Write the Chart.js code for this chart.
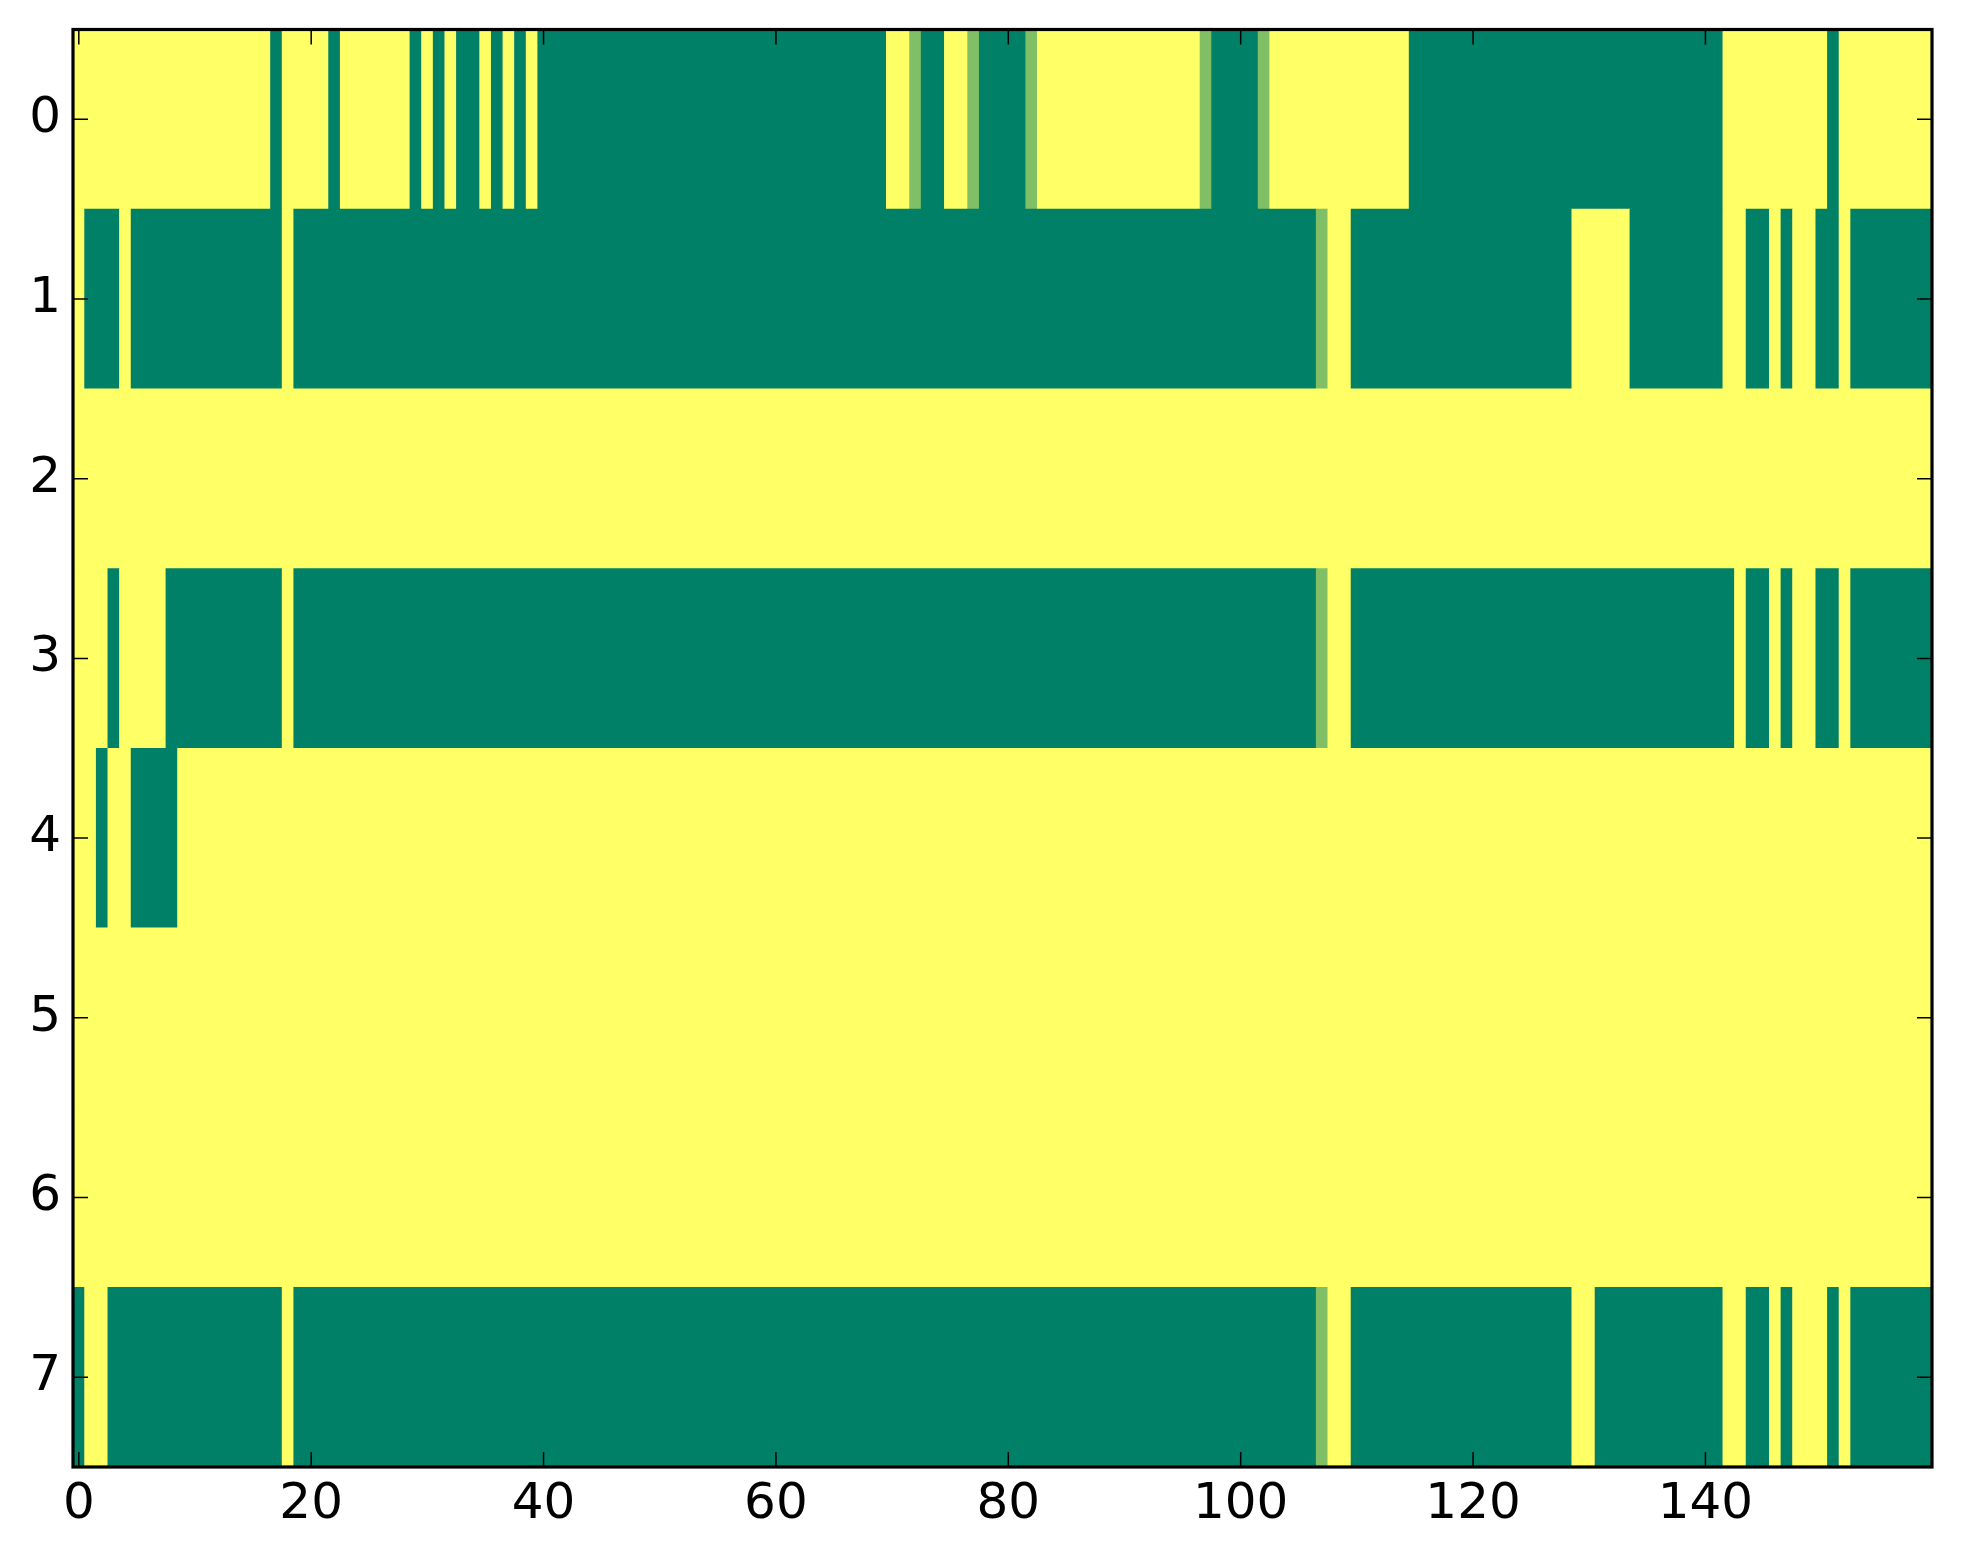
<!DOCTYPE html>
<html><head><meta charset="utf-8">
<script src="https://cdn.jsdelivr.net/npm/chart.js@4"></script>
<style>html,body{margin:0;padding:0;background:#fff}</style>
</head><body>
<canvas id="c" width="1963" height="1564" style="width:1963px;height:1564px;display:block"></canvas>
<script>
const rowLabels = ['0','1','2','3','4','5','6','7'];
const xTickValues = [0,20,40,60,80,100,120,140];
// each row: runs of [value, number of columns], read left to right (160 columns)
const row0 = [[1,17],[0,1],[1,4],[0,1],[1,6],[0,1],[1,1],[0,1],[1,1],[0,2],[1,1],[0,1],[1,1],[0,1],[1,1],[0,30],[1,2],[0.5,1],[0,2],[1,2],[0.5,1],[0,4],[0.5,1],[1,14],[0.5,1],[0,4],[0.5,1],[1,12],[0,27],[1,9],[0,1],[1,8]];
const row1 = [[1,1],[0,3],[1,1],[0,13],[1,1],[0,88],[0.5,1],[1,2],[0,19],[1,5],[0,8],[1,2],[0,2],[1,1],[0,1],[1,2],[0,2],[1,1],[0,7]];
const row2 = [[1,160]];
const row3 = [[1,3],[0,1],[1,4],[0,10],[1,1],[0,88],[0.5,1],[1,2],[0,33],[1,1],[0,2],[1,1],[0,1],[1,2],[0,2],[1,1],[0,7]];
const row4 = [[1,2],[0,1],[1,2],[0,4],[1,151]];
const row5 = [[1,160]];
const row6 = [[1,160]];
const row7 = [[0,1],[1,2],[0,15],[1,1],[0,88],[0.5,1],[1,2],[0,19],[1,2],[0,11],[1,2],[0,2],[1,1],[0,1],[1,3],[0,1],[1,1],[0,7]];
const rows = [row0,row1,row2,row3,row4,row5,row6,row7];

// matplotlib "summer" colormap
function summer(v){
  const r = Math.round(255*v), g = Math.round(255*(0.5+0.5*v)), b = Math.round(255*0.4);
  return `rgb(${r},${g},${b})`;
}

const cells = [], colors = [];
rows.forEach((runs, r) => {
  let start = 0;
  runs.forEach(([v, n]) => {
    cells.push({x:[start-0.5, start+n-0.5], y: rowLabels[r]});
    colors.push(summer(v));
    start += n;
  });
});

const font = {family:'DejaVu Sans', size:50};
const frame = {
  id:'frame',
  afterDatasetsDraw(chart){
    const {ctx, chartArea:a, scales:{x, y}} = chart;
    const L = 15;
    ctx.save();
    ctx.strokeStyle = '#000';
    ctx.lineWidth = 1.5;
    ctx.beginPath();
    xTickValues.forEach(v => {
      const px = x.getPixelForValue(v);
      ctx.moveTo(px, a.bottom); ctx.lineTo(px, a.bottom - L);
      ctx.moveTo(px, a.top); ctx.lineTo(px, a.top + L);
    });
    rowLabels.forEach((l, i) => {
      const py = y.getPixelForValue(i);
      ctx.moveTo(a.left, py); ctx.lineTo(a.left + L, py);
      ctx.moveTo(a.right, py); ctx.lineTo(a.right - L, py);
    });
    ctx.stroke();
    ctx.lineWidth = 3.2;
    ctx.strokeRect(a.left, a.top, a.right - a.left, a.bottom - a.top);
    ctx.restore();
  }
};

new Chart(document.getElementById('c'), {
  type:'bar',
  data:{labels: rowLabels, datasets:[{data: cells, backgroundColor: colors, borderWidth:0, barPercentage:1, categoryPercentage:1, inflateAmount:'auto'}]},
  options:{
    indexAxis:'y', responsive:false, devicePixelRatio:1, animation:false,
    plugins:{legend:{display:false}, tooltip:{enabled:false}},
    layout:{padding:{top:29.5, right:31, left:0, bottom:0}},
    scales:{
      x:{type:'linear', min:-0.5, max:159.5,
         afterBuildTicks: s => { s.ticks = xTickValues.map(v => ({value:v})); },
         grid:{display:false, drawTicks:false}, border:{display:false},
         ticks:{font, color:'#000', padding:8, maxRotation:0, autoSkip:false},
         afterFit: s => { s.height = 97; s.paddingLeft = 0; s.paddingRight = 0; }},
      y:{type:'category', offset:true,
         grid:{display:false, drawTicks:false}, border:{display:false},
         ticks:{font, color:'#000', padding:12},
         afterFit: s => { s.width = 73; s.paddingTop = 0; s.paddingBottom = 0; }}
    }
  },
  plugins:[frame]
});
</script>
</body></html>
